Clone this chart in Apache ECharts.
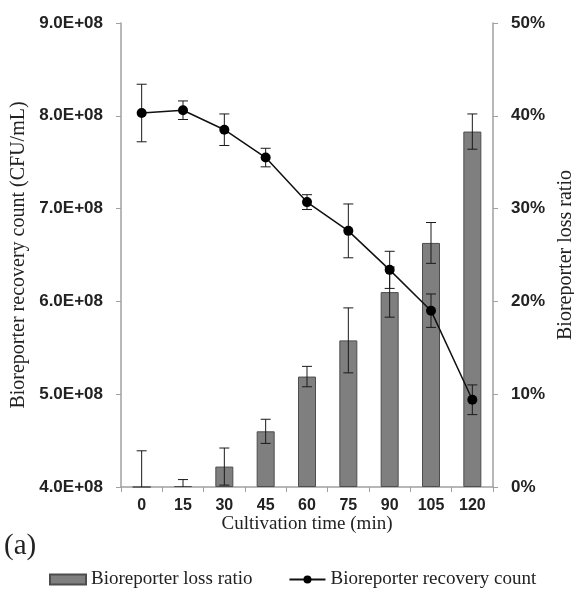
<!DOCTYPE html>
<html>
<head>
<meta charset="utf-8">
<script src="https://cdn.jsdelivr.net/npm/echarts@6/dist/echarts.min.js"></script>
<style>
html,body{margin:0;padding:0;background:#fff;}
#chart{width:574px;height:597px;}
</style>
</head>
<body>
<div id="chart"></div>
<script>
// ---- data ----
const categories = ['0', '15', '30', '45', '60', '75', '90', '105', '120'];
// Bioreporter recovery count (CFU/mL), left axis
const recoveryCount = [8.03e8, 8.06e8, 7.85e8, 7.55e8, 7.07e8, 6.76e8, 6.34e8, 5.90e8, 4.94e8];
const recoveryErr   = [0.31e8, 0.10e8, 0.17e8, 0.10e8, 0.08e8, 0.29e8, 0.20e8, 0.18e8, 0.16e8];
// Bioreporter loss ratio (%), right axis
const lossRatio = [0, 0.1, 2.2, 6.0, 11.9, 15.8, 21.0, 26.3, 38.3];
const lossErr   = [3.9, 0.7, 2.0, 1.3, 1.1, 3.5, 2.7, 2.2, 1.9];
// axis ticks
const leftTicks = { min: 4e8, max: 9e8, interval: 1e8 };
const rightTicks = { min: 0, max: 50, interval: 10 };

const SERIF = "'Liberation Serif','Times New Roman',serif";
const SANS = "'Liberation Sans',Arial,sans-serif";
const axisGray = '#a0a0a0';

function errRender(axisMin) {
  return function (params, api) {
    const i = api.value(0), v = api.value(1), e = api.value(2);
    const loV = Math.max(v - e, axisMin);
    const pHi = api.coord([i, v + e]);
    const pLo = api.coord([i, loV]);
    const hw = 5;
    const style = { stroke: '#1a1a1a', lineWidth: 1 };
    const children = [
      { type: 'line', shape: { x1: pHi[0], y1: pHi[1], x2: pLo[0], y2: pLo[1] }, style },
      { type: 'line', shape: { x1: pHi[0] - hw, y1: pHi[1], x2: pHi[0] + hw, y2: pHi[1] }, style }
    ];
    if (v - e > axisMin) {
      children.push({ type: 'line', shape: { x1: pLo[0] - hw, y1: pLo[1], x2: pLo[0] + hw, y2: pLo[1] }, style });
    }
    return { type: 'group', children };
  };
}

const chart = echarts.init(document.getElementById('chart'), null, { renderer: 'canvas' });
chart.setOption({
  animation: false,
  backgroundColor: '#fff',
  grid: { left: 121, right: 81, top: 23, bottom: 110, containLabel: false, outerBoundsMode: 'none' },
  legend: {
    left: 44, top: 565,
    itemWidth: 36, itemHeight: 10, itemGap: 36,
    textStyle: { fontFamily: SERIF, fontSize: 19, color: '#222' },
    data: [
      { name: 'Bioreporter loss ratio', icon: 'rect' },
      { name: 'Bioreporter recovery count' }
    ]
  },
  graphic: [
    { type: 'text', left: 4, top: 532, style: { text: '(a)', font: "29px " + SERIF, fill: '#222' } }
  ],
  xAxis: {
    type: 'category',
    data: categories,
    name: 'Cultivation time (min)',
    nameLocation: 'middle',
    nameGap: 28,
    nameMoveOverlap: false,
    nameTextStyle: { fontFamily: SERIF, fontSize: 19, color: '#222' },
    axisLine: { lineStyle: { color: axisGray, width: 1.5 } },
    axisTick: { show: true, inside: false, length: 5, alignWithLabel: false, lineStyle: { color: axisGray } },
    axisLabel: { fontFamily: SANS, fontWeight: 'bold', fontSize: 16, color: '#222', margin: 11 },
    splitLine: { show: false }
  },
  yAxis: [
    {
      type: 'value', position: 'left',
      min: leftTicks.min, max: leftTicks.max, interval: leftTicks.interval,
      name: 'Bioreporter recovery count (CFU/mL)',
      nameLocation: 'middle', nameGap: 88, nameRotate: 90,
      nameTextStyle: { fontFamily: SERIF, fontSize: 20, color: '#222' },
      axisLine: { show: true, lineStyle: { color: axisGray, width: 1.5 } },
      axisTick: { show: true, length: 5, lineStyle: { color: axisGray } },
      axisLabel: {
        fontFamily: SANS, fontWeight: 'bold', fontSize: 17, color: '#222', margin: 18,
        formatter: v => (v / 1e8).toFixed(1) + 'E+08'
      },
      splitLine: { show: false }
    },
    {
      type: 'value', position: 'right',
      min: rightTicks.min, max: rightTicks.max, interval: rightTicks.interval,
      name: 'Bioreporter loss ratio',
      nameLocation: 'middle', nameGap: 59, nameRotate: 90,
      nameTextStyle: { fontFamily: SERIF, fontSize: 20, color: '#222' },
      axisLine: { show: true, lineStyle: { color: axisGray, width: 1.5 } },
      axisTick: { show: true, length: 5, lineStyle: { color: axisGray } },
      axisLabel: { fontFamily: SANS, fontWeight: 'bold', fontSize: 17, color: '#222', margin: 18, formatter: '{value}%' },
      splitLine: { show: false }
    }
  ],
  series: [
    {
      name: 'Bioreporter loss ratio',
      type: 'bar', yAxisIndex: 1,
      data: lossRatio,
      barWidth: 18,
      itemStyle: { color: '#7f7f7f', borderColor: '#4d4d4d', borderWidth: 1 },
      z: 2
    },
    {
      name: 'lossErr', type: 'custom', yAxisIndex: 1,
      data: categories.map((c, i) => [i, lossRatio[i], lossErr[i]]),
      renderItem: errRender(rightTicks.min),
      z: 3, silent: true
    },
    {
      name: 'recoveryErr', type: 'custom', yAxisIndex: 0,
      data: categories.map((c, i) => [i, recoveryCount[i], recoveryErr[i]]),
      renderItem: errRender(leftTicks.min),
      z: 4, silent: true
    },
    {
      name: 'Bioreporter recovery count',
      type: 'line', yAxisIndex: 0,
      data: recoveryCount,
      symbol: 'circle', symbolSize: 10,
      lineStyle: { color: '#111', width: 1.5 },
      itemStyle: { color: '#000' },
      z: 5
    }
  ]
});
</script>
</body>
</html>
